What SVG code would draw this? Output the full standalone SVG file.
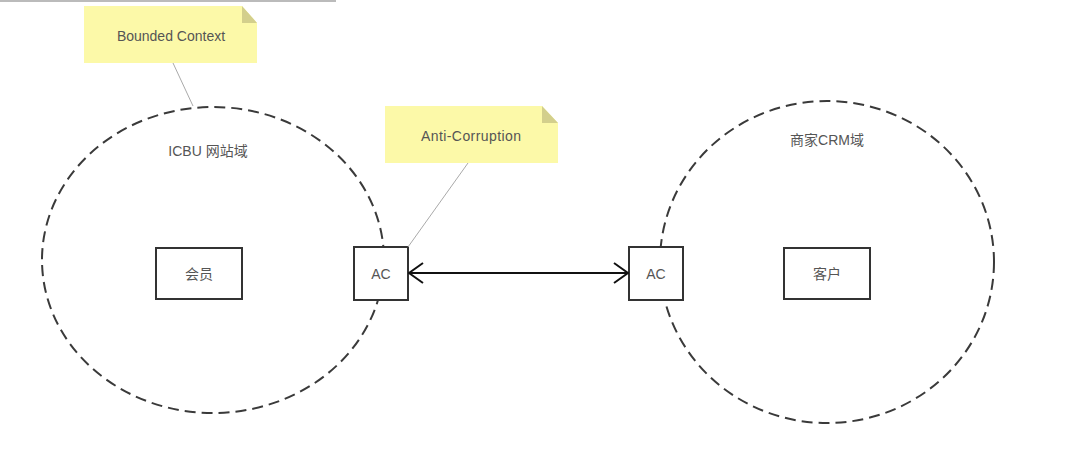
<svg xmlns="http://www.w3.org/2000/svg" width="1065" height="452" viewBox="0 0 1065 452">
<style>
.dom{fill:none;stroke:#3a3a3a;stroke-width:2;stroke-dasharray:11 6}
.box{fill:#fff;stroke:#333;stroke-width:2}
.t{font-family:"Liberation Sans","Noto Sans CJK SC",sans-serif;font-size:14px;fill:#555;text-anchor:middle;dominant-baseline:central}
.note{fill:#fcf9a8}
.fold{fill:#d3cf8c}
.lead{stroke:#aaa;stroke-width:1;fill:none}
</style>
<defs>
<marker id="arr" viewBox="0 0 16 22" refX="15" refY="11" markerWidth="16" markerHeight="22" markerUnits="userSpaceOnUse" orient="auto-start-reverse">
<path d="M1,1 L15,11 L1,21" fill="none" stroke="#111" stroke-width="2"/>
</marker>
</defs>
<rect width="1065" height="452" fill="#fff"/>
<line x1="0" y1="1" x2="336" y2="1" stroke="#bbb" stroke-width="2"/>
<g id="icbu">
<ellipse class="dom" cx="213" cy="260" rx="171" ry="153"/>
<text class="t" x="208" y="151">ICBU 网站域</text>
</g>
<g id="crm">
<ellipse class="dom" cx="827" cy="262" rx="167" ry="161"/>
<text class="t" x="827" y="140">商家CRM域</text>
</g>
<g id="member">
<rect class="box" x="156" y="248" width="86" height="51"/>
<text class="t" x="199" y="274">会员</text>
</g>
<g id="customer">
<rect class="box" x="784" y="248" width="86" height="51"/>
<text class="t" x="827" y="274">客户</text>
</g>
<g id="ac-left">
<rect class="box" x="354" y="247" width="54" height="53"/>
<text class="t" x="381" y="274">AC</text>
</g>
<g id="ac-right">
<rect class="box" x="629" y="247" width="54" height="53"/>
<text class="t" x="656" y="274">AC</text>
</g>
<g id="note-bc">
<path class="note" d="M84,6 H242 L257,23 V63 H84 Z"/>
<path class="fold" d="M242,6 L257,23 H242 Z"/>
<text class="t" x="171" y="36">Bounded Context</text>
</g>
<g id="note-ac">
<path class="note" d="M385,106 H542 L558,123 V163 H385 Z"/>
<path class="fold" d="M542,106 L558,123 H542 Z"/>
<text class="t" x="471" y="136" textLength="100" lengthAdjust="spacing">Anti-Corruption</text>
</g>
<g id="connectors">
<line class="lead" x1="173" y1="63" x2="193" y2="106"/>
<line class="lead" x1="468" y1="163" x2="408" y2="247"/>
<line x1="409" y1="273" x2="628" y2="273" stroke="#111" stroke-width="2" marker-start="url(#arr)" marker-end="url(#arr)"/>
</g>
</svg>
